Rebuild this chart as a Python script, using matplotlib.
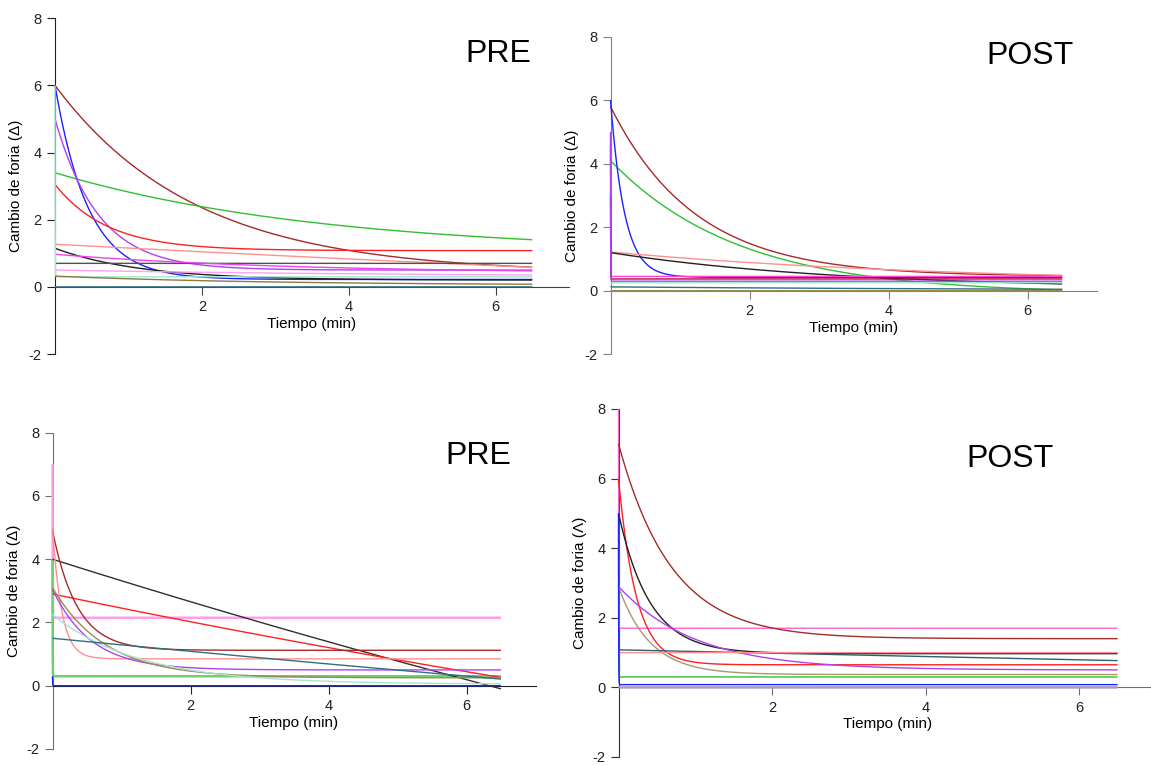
import numpy as np
import matplotlib.pyplot as plt

plt.rcParams['font.family'] = ['Liberation Sans', 'DejaVu Sans']
plt.rcParams['axes.unicode_minus'] = False

# fitted decay curves: y = plateau + (start - plateau) * exp(-rate * t)
# values (cambio de foria vs tiempo)

# top left - PRE
tl_start = [6.0, 3.4, 6.0, 5.0, 3.05, 1.27, 1.15, 0.7, 0.97, 0.5, 6.0, 0.32, 0.0]
tl_plateau = [0.4, 1.0, 0.22, 0.5, 1.08, -3.0, 0.2, 0.7, 0.4, 0.3, 0.3, 0.05, 0.0]
tl_rate = [0.525, 0.274, 2.2, 1.7, 1.4, 0.0271, 0.86, 0.0, 0.314, 0.2, 500, 0.35, 0.0]
tl_colors = ['#A52A2A', '#30C030', '#2020FF', '#B040F0', '#FF2020', '#FF9090', '#202020',
             '#505050', '#F040F0', '#FFA0F0', '#A0E8D0', '#8C7A40', '#2F6F7F']

# top right - POST
tr_start = [5.8, 4.1, 6.0, 1.22, 1.2, 4.6, 3.0, 5.0, 0.25, 0.12, 0.0]
tr_plateau = [0.45, -0.1, 0.42, 0.2, 0.05, 0.45, 0.37, 0.3, 0.25, 0.0, 0.0]
tr_rate = [0.82, 0.545, 5.0, 0.198, 0.3, 500, 500, 500, 0.0, 0.15, 0.0]
tr_colors = ['#A52A2A', '#30C030', '#2020FF', '#FF9090', '#202020', '#FF40E0',
             '#C00030', '#B040F0', '#A0E8D0', '#2F6F7F', '#9C8A50']

# bottom left - PRE
bl_start = [7.0, 4.0, 0.3, 4.0, 2.9, 4.9, 5.0, 3.05, 3.1, 2.25, 1.5]
bl_plateau = [2.15, 0.3, 0.0, -20.0, -10.0, 1.12, 0.85, 0.5, 0.25, 0.05, -10.0]
bl_rate = [500, 500, 500, 0.0288, 0.0352, 2.8, 7.5, 1.8, 1.3, 0.8, 0.0183]
bl_colors = ['#FFA0E8', '#70D070', '#2020E0', '#303030', '#FF2020', '#A52A2A',
             '#FF9090', '#B040F0', '#9C8A50', '#A0E8D0', '#2F6F7F']

# bottom right - POST
br_start = [0.0, 8.0, 7.0, 6.0, 5.0, 2.9, 2.9, 1.08, 1.0, 4.0, 5.0]
br_plateau = [0.0, 1.7, 1.4, 0.65, 0.97, 0.5, 0.37, -5.0, 1.0, 0.3, 0.08]
br_rate = [0.0, 500, 1.45, 4.3, 2.45, 1.0, 2.45, 0.00806, 0.0, 500, 500]
br_colors = ['#A0A0C0', '#FF60D0', '#A52A2A', '#FF2020', '#202020', '#B040F0',
             '#A89870', '#2F5F6F', '#FF9090', '#30C030', '#2020FF']

W, H = 1151, 765
fig = plt.figure(figsize=(W / 100, H / 100), dpi=100)
# dense near t=0 so the fast drops come out vertical
t = np.concatenate([[0.0], np.geomspace(1e-4, 6.5, 4000)])


def panel(box, start, plateau, rate, colors, label, label_xy, ylab, left_c, bottom_c):
    x0, x7, y8, ym2 = box
    ax = fig.add_axes([x0 / W, 1 - ym2 / H, (x7 - x0) / W, (ym2 - y8) / H])
    for s, p, k, c in zip(start, plateau, rate, colors):
        y = p + (s - p) * np.exp(-k * t)
        lw = 1.8 if c in ('#FFA0E8', '#70D070', '#A0A0C0') else 1.0
        ax.plot(t, y, color=c, lw=lw, solid_capstyle='butt', zorder=3, clip_on=False)
    ax.set_xlim(0, 7)
    ax.set_ylim(-2, 8)
    ax.spines['top'].set_visible(False)
    ax.spines['right'].set_visible(False)
    ax.spines['bottom'].set_position(('data', 0))
    ax.spines['left'].set_color(left_c)
    ax.spines['bottom'].set_color(bottom_c)
    ax.set_xticks([2, 4, 6])
    ax.set_yticks([-2, 0, 2, 4, 6, 8])
    ax.tick_params(axis='x', colors=bottom_c, labelcolor='#202020', labelsize=10.5, length=6)
    ax.tick_params(axis='y', colors=left_c, labelcolor='#202020', labelsize=10.5, length=6)
    ax.set_xlabel('Tiempo (min)', fontsize=11, labelpad=2)
    ax.set_ylabel(ylab, fontsize=11, labelpad=4)
    ax.patch.set_alpha(0)
    fig.text(label_xy[0] / W, 1 - label_xy[1] / H, label, fontsize=23, ha='center', va='center')


panel((55, 569, 18.3, 354), tl_start, tl_plateau, tl_rate, tl_colors,
      'PRE', (498, 54), 'Cambio de foria (Δ)', '#202020', '#404040')
panel((610.5, 1097, 36.7, 354.2), tr_start, tr_plateau, tr_rate, tr_colors,
      'POST', (1030, 56), 'Cambio de foria (Δ)', '#808080', '#808080')
panel((52.5, 535.5, 432.7, 749), bl_start, bl_plateau, bl_rate, bl_colors,
      'PRE', (478, 456), 'Cambio de foria (Δ)', '#707070', '#202020')
panel((618.5, 1156, 409, 757), br_start, br_plateau, br_rate, br_colors,
      'POST', (1010, 459), 'Cambio de foria (Λ)', '#303030', '#707070')

plt.savefig('out.png', dpi=100)
